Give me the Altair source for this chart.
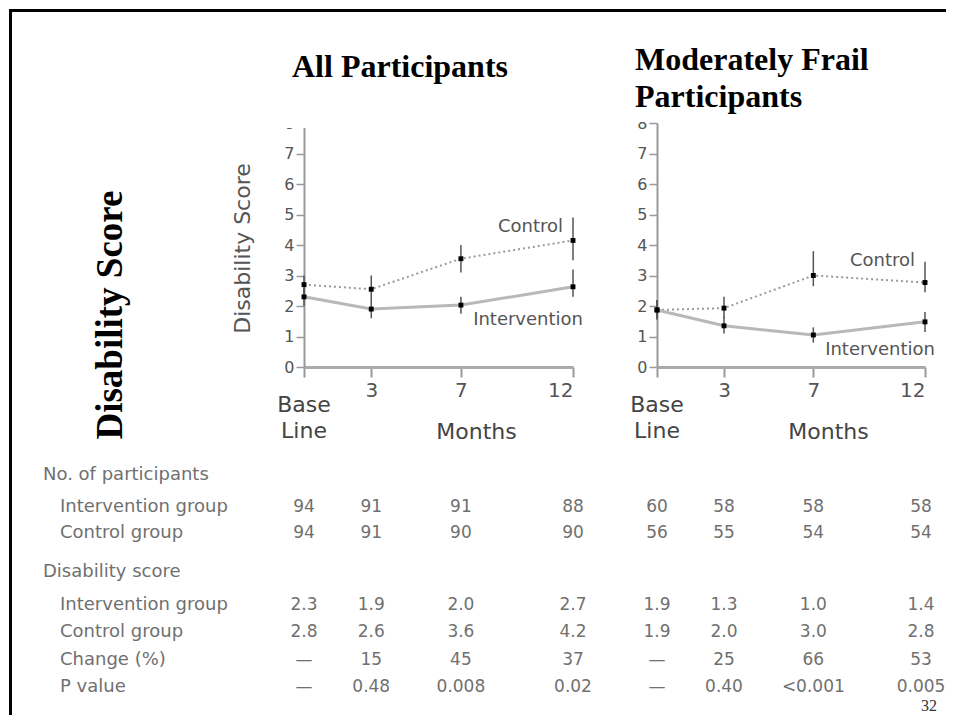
import altair as alt
import pandas as pd

# ---------------- data ----------------
months = [0, 3, 7, 12]

# All participants: plotted means and error-bar ends
all_control = [2.7, 2.55, 3.55, 4.15]
all_control_lo = [2.4, 2.2, 3.1, 3.5]
all_control_hi = [3.0, 3.0, 4.0, 4.9]
all_interv = [2.3, 1.9, 2.03, 2.63]
all_interv_lo = [2.0, 1.6, 1.75, 2.3]
all_interv_hi = [2.6, 2.2, 2.3, 3.2]

# Moderately frail participants
frail_control = [1.87, 1.93, 3.0, 2.77]
frail_control_lo = [1.6, 1.6, 2.65, 2.45]
frail_control_hi = [2.2, 2.3, 3.8, 3.45]
frail_interv = [1.87, 1.35, 1.05, 1.48]
frail_interv_lo = [1.55, 1.1, 0.8, 1.15]
frail_interv_hi = [2.2, 1.65, 1.3, 1.8]

# table rows
row_labels = ["No. of participants", "Intervention group", "Control group",
              "Disability score", "Intervention group", "Control group",
              "Change (%)", "P value"]
row_is_header = [True, False, False, True, False, False, False, False]

all_n_interv = ["94", "91", "91", "88"]
all_n_control = ["94", "91", "90", "90"]
all_score_interv = ["2.3", "1.9", "2.0", "2.7"]
all_score_control = ["2.8", "2.6", "3.6", "4.2"]
all_change = ["\u2014", "15", "45", "37"]
all_p = ["\u2014", "0.48", "0.008", "0.02"]

frail_n_interv = ["60", "58", "58", "58"]
frail_n_control = ["56", "55", "54", "54"]
frail_score_interv = ["1.9", "1.3", "1.0", "1.4"]
frail_score_control = ["1.9", "2.0", "3.0", "2.8"]
frail_change = ["\u2014", "25", "66", "53"]
frail_p = ["\u2014", "0.40", "<0.001", "0.005"]

# ---------------- layout ----------------
W, H = 938, 707
Y0, Y8 = 359, 115            # pixel rows of score 0 and 8
ROW_Y = [467, 499, 525, 564, 597, 624, 652, 679]
SANS = "DejaVu Sans"
SERIF = "Liberation Serif"
GREY = "#555555"
TGREY = "#707070"

one = alt.Data(values=[{"k": 1}])


def make_panel(ctl, ctl_lo, ctl_hi, itv, itv_lo, itv_hi, table_rows, xr,
               y_title, months_x, lab, last_dx):
    df = pd.DataFrame({
        "month": months * 2,
        "group": ["Control"] * 4 + ["Intervention"] * 4,
        "value": ctl + itv,
        "lo": ctl_lo + itv_lo,
        "hi": ctl_hi + itv_hi,
    })
    xs = alt.Scale(domain=[0, 12], range=xr, nice=False, zero=False)
    ys = alt.Scale(domain=[0, 8], range=[Y0, Y8], nice=False, zero=False)
    xaxis = alt.Axis(orient="bottom", offset=Y0 - H, values=months, grid=False,
                     labelExpr="datum.value == 0 ? '' : datum.label",
                     labelFont=SANS, labelFontSize=20, labelColor=GREY, labelPadding=3,
                     domainColor="#aaaaaa", domainWidth=3,
                     tickColor="#999999", tickWidth=2, tickSize=10,
                     title="Months", titleX=months_x, titleY=71, titleAlign="center",
                     titleBaseline="alphabetic", titleFont=SANS, titleFontSize=22,
                     titleFontWeight="normal", titleColor="#444444")
    ykw = dict(orient="left", offset=-xr[0], values=list(range(9)), grid=False,
               labelFont=SANS, labelFontSize=16, labelColor=GREY, labelPadding=2,
               domainColor="#999999", domainWidth=2,
               tickColor="#999999", tickWidth=1.5, tickSize=8,
               title=y_title)
    if y_title:
        ykw.update(titleX=-55, titleY=240, titleAngle=270, titleAlign="center",
                   titleBaseline="alphabetic", titleFont=SANS, titleFontSize=22,
                   titleFontWeight="normal", titleColor=GREY)
    yaxis = alt.Axis(**ykw)
    X = alt.X("month:Q", scale=xs, axis=xaxis)
    Y = alt.Y("value:Q", scale=ys, axis=yaxis)

    base = alt.Chart(df)
    line_ctl = base.mark_line(color="#9a9a9a", strokeWidth=2, strokeDash=[2, 3]).encode(
        x=X, y=Y).transform_filter("datum.group == 'Control'")
    line_itv = base.mark_line(color="#b8b8b8", strokeWidth=3).encode(
        x=X, y=Y).transform_filter("datum.group == 'Intervention'")
    rules = base.mark_rule(color="#555555", strokeWidth=1.5).encode(
        x=X, y=alt.Y("lo:Q", scale=ys, axis=yaxis), y2="hi:Q")
    pts = base.mark_square(size=24, color="black", opacity=1).encode(x=X, y=Y)

    lab_ctl = base.mark_text(font=SANS, fontSize=18, color=GREY, align="right",
                             baseline="middle", dx=lab[0][0], dy=lab[0][1]).encode(
        x=X, y=Y, text=alt.value("Control")).transform_filter(
        "datum.group == 'Control' && datum.month == 12")
    lab_itv = base.mark_text(font=SANS, fontSize=18, color=GREY, align="right",
                             baseline="middle", dx=lab[1][0], dy=lab[1][1]).encode(
        x=X, y=Y, text=alt.value("Intervention")).transform_filter(
        "datum.group == 'Intervention' && datum.month == 12")
    base_line = base.mark_text(font=SANS, fontSize=22, color="#444444", align="center",
                               baseline="alphabetic", lineHeight=26).encode(
        x=X, y=alt.value(404), text=alt.value(["Base", "Line"])).transform_filter(
        "datum.group == 'Control' && datum.month == 0")

    tables = []
    for row_idx, vals in table_rows:
        tdf = pd.DataFrame({"month": months, "txt": vals})
        tables.append(alt.Chart(tdf).mark_text(font=SANS, fontSize=17, color=TGREY,
                                               align="center", baseline="middle").encode(
            x=X, y=alt.value(ROW_Y[row_idx]), text="txt:N").transform_filter(
            "datum.month < 12"))
        tables.append(alt.Chart(tdf).mark_text(font=SANS, fontSize=17, color=TGREY,
                                               align="center", baseline="middle",
                                               dx=last_dx).encode(
            x=X, y=alt.value(ROW_Y[row_idx]), text="txt:N").transform_filter(
            "datum.month == 12"))

    return alt.layer(line_ctl, line_itv, rules, pts, lab_ctl, lab_itv, base_line, *tables)


left = make_panel(all_control, all_control_lo, all_control_hi,
                  all_interv, all_interv_lo, all_interv_hi,
                  [(1, all_n_interv), (2, all_n_control), (4, all_score_interv),
                   (5, all_score_control), (6, all_change), (7, all_p)],
                  [296, 565], "Disability Score", 468,
                  [(-10, -13), (10, 33)], 0)
right = make_panel(frail_control, frail_control_lo, frail_control_hi,
                   frail_interv, frail_interv_lo, frail_interv_hi,
                   [(1, frail_n_interv), (2, frail_n_control), (4, frail_score_interv),
                    (5, frail_score_control), (6, frail_change), (7, frail_p)],
                   [649, 917], "", 820,
                   [(-10, -22), (10, 28)], -4)

frame = alt.Chart(one).mark_rect(fillOpacity=0, stroke="black", strokeWidth=3).encode(
    x=alt.value(2.5), x2=alt.value(1200), y=alt.value(2.5), y2=alt.value(1200))
cover_l = alt.Chart(one).mark_rect(color="white").encode(
    x=alt.value(242), x2=alt.value(552), y=alt.value(10), y2=alt.value(120))
cover_r = alt.Chart(one).mark_rect(color="white").encode(
    x=alt.value(590), x2=alt.value(930), y=alt.value(10), y2=alt.value(114))

title_l = alt.Chart(one).mark_text(font=SERIF, fontSize=32, fontWeight="bold", color="black",
                                   align="left", baseline="alphabetic").encode(
    x=alt.value(284), y=alt.value(69), text=alt.value("All Participants"))
title_r = alt.Chart(one).mark_text(font=SERIF, fontSize=32, fontWeight="bold", color="black",
                                   align="left", baseline="alphabetic", lineHeight=37).encode(
    x=alt.value(627), y=alt.value(62), text=alt.value(["Moderately Frail", "Participants"]))
big = alt.Chart(one).mark_text(font=SERIF, fontSize=37, fontWeight="bold", color="black",
                               align="center", baseline="alphabetic", angle=270).encode(
    x=alt.value(114), y=alt.value(307), text=alt.value("Disability Score"))
page_no = alt.Chart(one).mark_text(font=SERIF, fontSize=16, color="#333333",
                                   align="right", baseline="alphabetic").encode(
    x=alt.value(929), y=alt.value(703), text=alt.value("32"))

row_layers = []
for i, lbl in enumerate(row_labels):
    row_layers.append(alt.Chart(one).mark_text(font=SANS, fontSize=18, color=TGREY,
                                               align="left", baseline="middle").encode(
        x=alt.value(35 if row_is_header[i] else 52), y=alt.value(ROW_Y[i]),
        text=alt.value(lbl)))

chart = alt.layer(frame, left, right, cover_l, cover_r, title_l, title_r, big,
                  *row_layers, page_no).resolve_scale(
    x="independent", y="independent").properties(
    width=W, height=H, autosize=alt.AutoSizeParams(type="none"), padding=0
).configure_view(strokeOpacity=0)

chart.save("out.html", embed_options={"renderer": "svg", "actions": False})
